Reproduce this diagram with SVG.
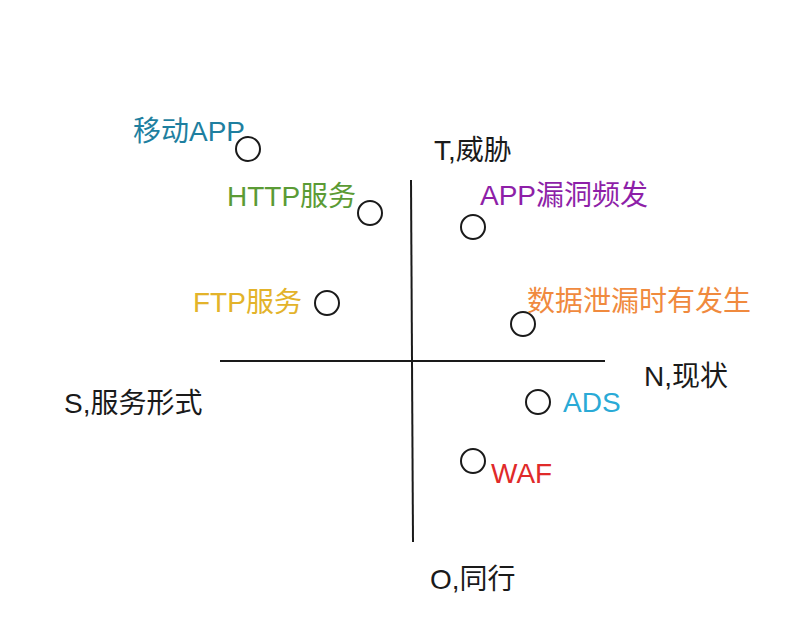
<svg xmlns="http://www.w3.org/2000/svg" width="800" height="623" viewBox="0 0 800 623">
<style>
text{font-family:"Liberation Sans","Noto Sans CJK SC",sans-serif;font-size:28px}
.ax{fill:#1a1a1a}
circle{fill:none;stroke:#1a1a1a;stroke-width:2}
line{stroke:#1a1a1a;stroke-width:2}
</style>
<rect width="800" height="623" fill="#fff"/>
<g id="connectors">
<line x1="411" y1="180" x2="413" y2="542"/>
<line x1="220" y1="361" x2="605" y2="361"/>
</g>
<g id="axis-T"><text class="ax" x="434" y="160">T,威胁</text></g>
<g id="axis-N"><text class="ax" x="644" y="386">N,现状</text></g>
<g id="axis-S"><text class="ax" x="64" y="413">S,服务形式</text></g>
<g id="axis-O"><text class="ax" x="430" y="589">O,同行</text></g>
<g id="mobile-app"><circle cx="248" cy="149" r="12"/><text x="133" y="141" fill="#1e7fa0">移动APP</text></g>
<g id="http"><circle cx="370" cy="213" r="12"/><text x="227" y="206" fill="#5b9b35">HTTP服务</text></g>
<g id="app-vuln"><circle cx="473" cy="227" r="12"/><text x="480" y="205" fill="#8e1fa8">APP漏洞频发</text></g>
<g id="ftp"><circle cx="327" cy="303" r="12"/><text x="193" y="312" fill="#e3b32a">FTP服务</text></g>
<g id="data-leak"><circle cx="523" cy="324" r="12"/><text x="527" y="311" fill="#f08a3e">数据泄漏时有发生</text></g>
<g id="ads"><circle cx="538" cy="402" r="12"/><text x="563" y="412" fill="#2aaad6">ADS</text></g>
<g id="waf"><circle cx="473" cy="461" r="12"/><text x="491" y="483" fill="#e02a2a">WAF</text></g>
</svg>
